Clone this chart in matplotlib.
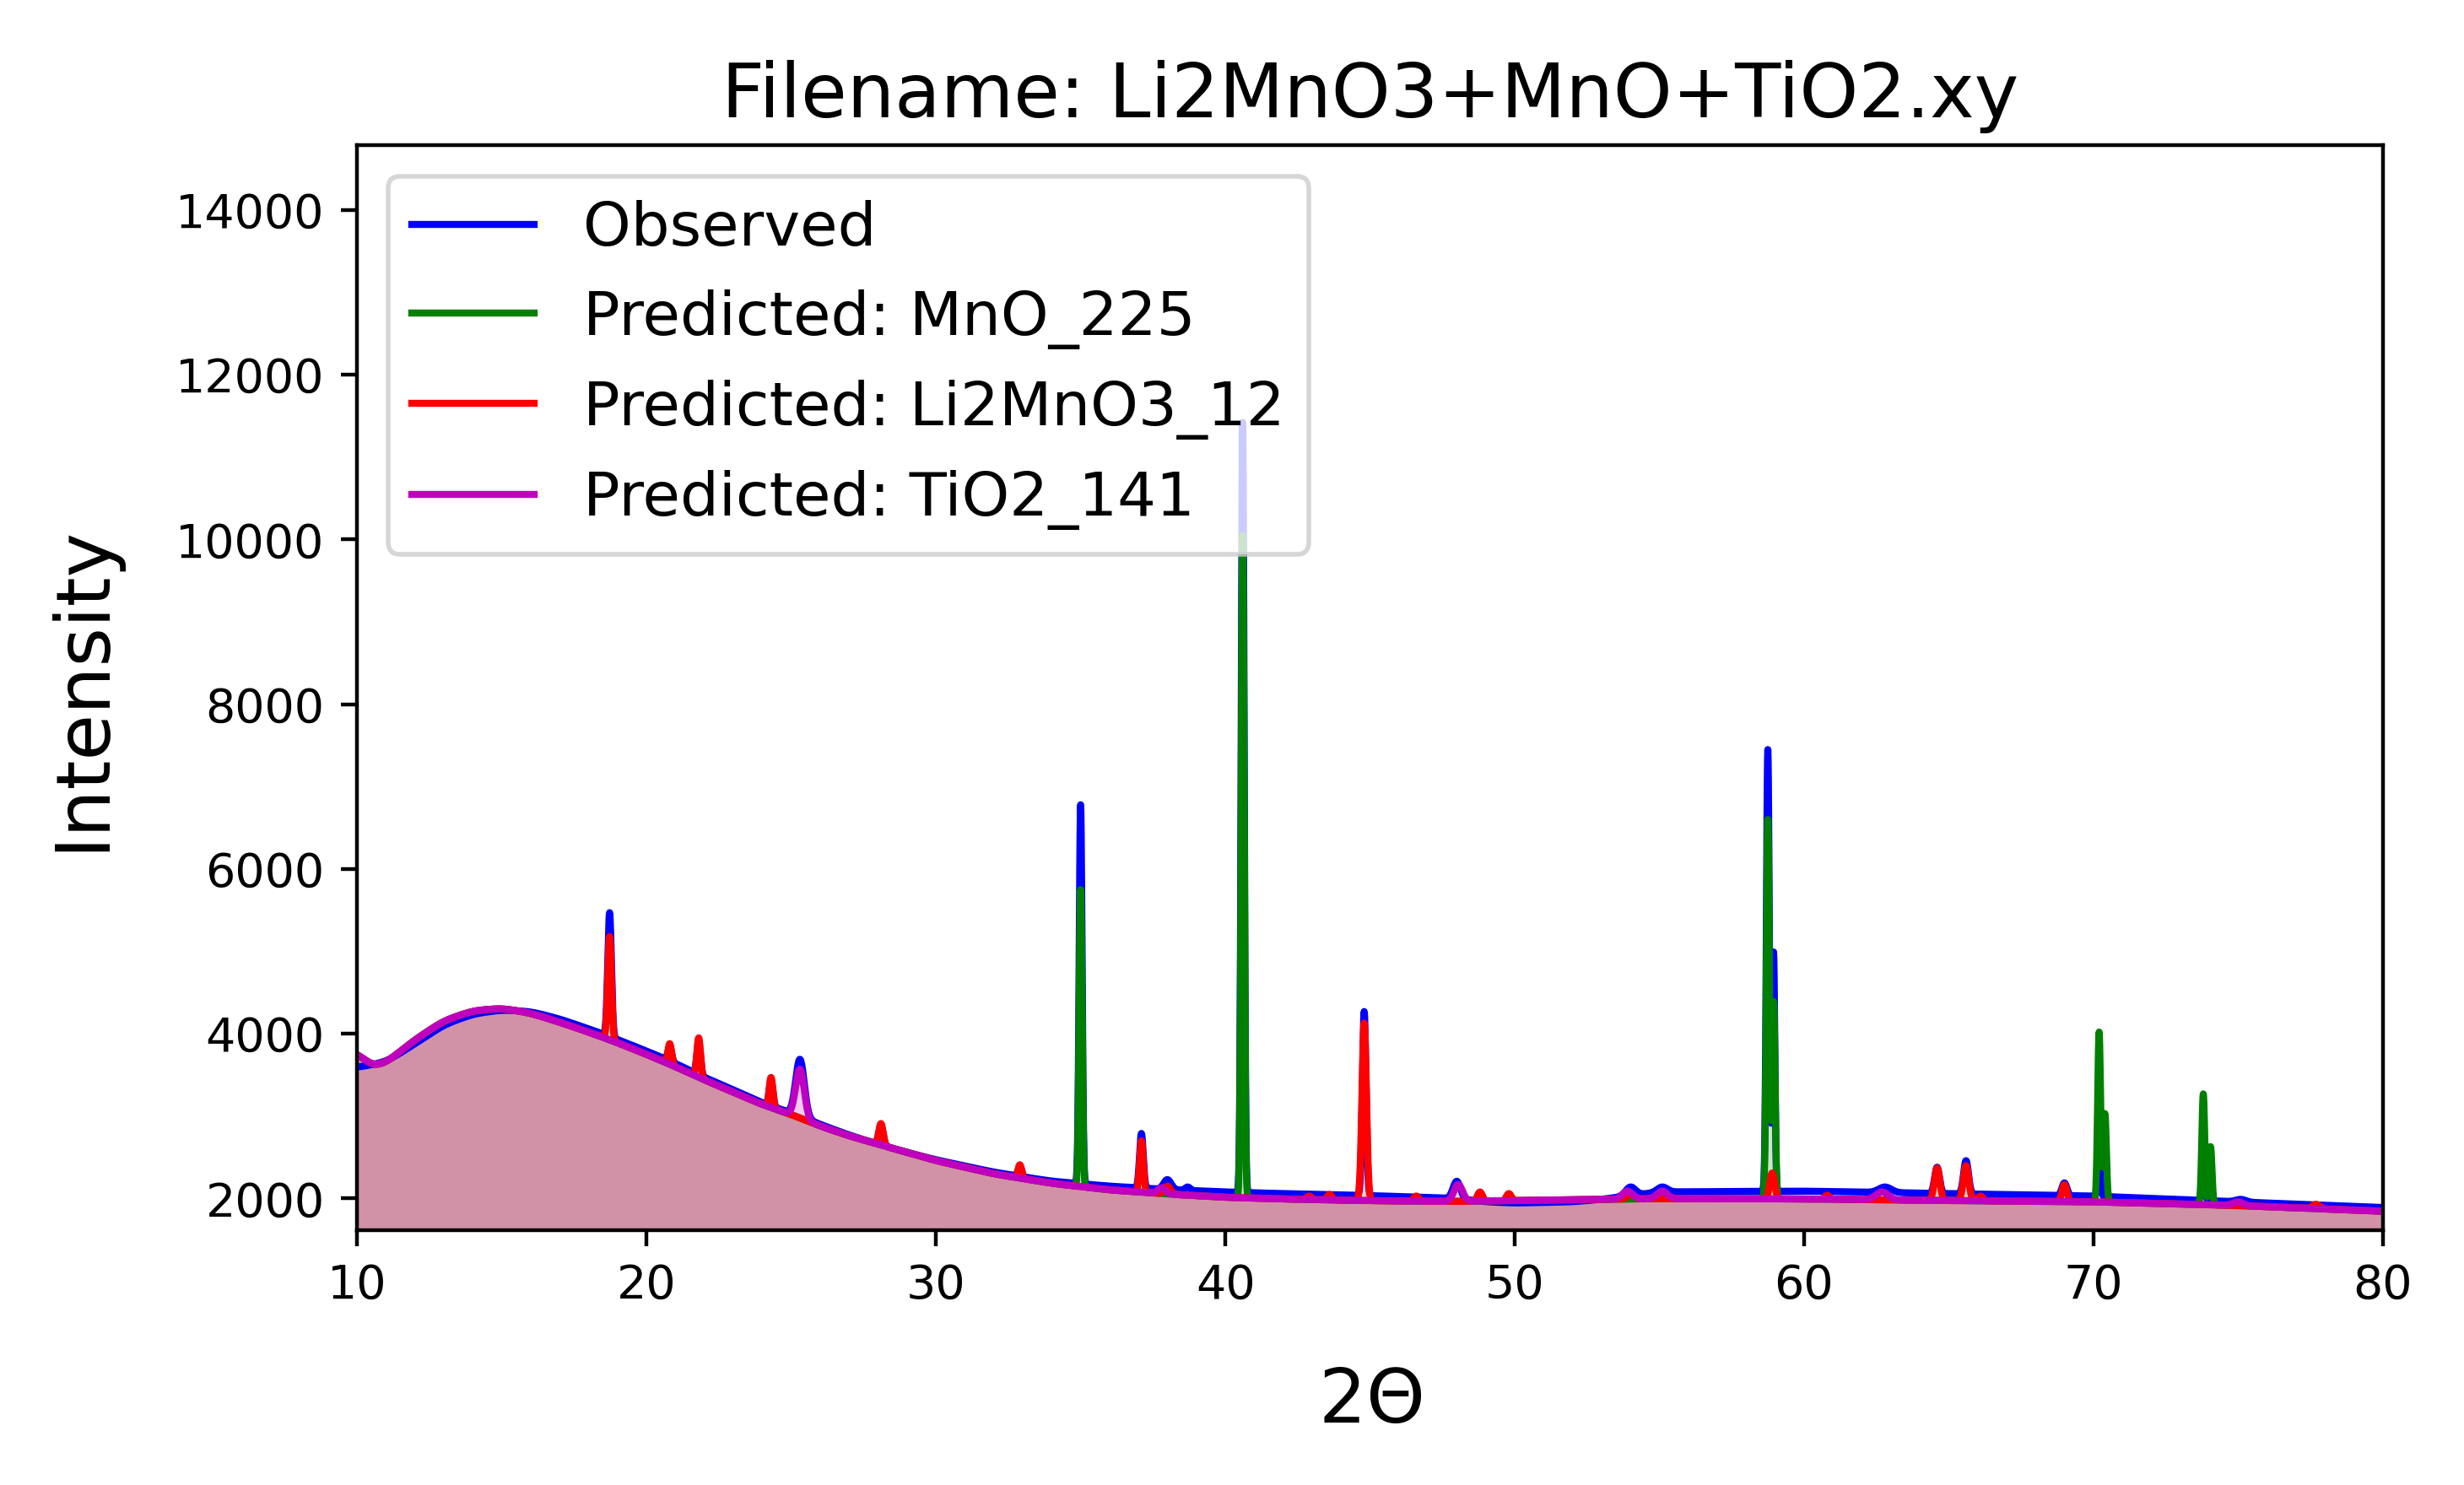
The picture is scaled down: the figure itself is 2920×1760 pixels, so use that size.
import numpy as np
import matplotlib
matplotlib.use("Agg")
import matplotlib.pyplot as plt

# background (2theta, intensity)
obs_bg_angles = [10, 11, 12, 13, 14, 15, 16, 17, 18, 19, 20, 21, 22, 23, 24, 25, 26, 27, 28, 29,
                 30, 32, 34, 36, 38, 40, 42, 44, 46, 48, 49, 50, 52, 53, 55, 60, 65, 70, 75, 80]
obs_bg = [3590, 3660, 3880, 4110, 4240, 4290, 4270, 4180, 4060, 3930, 3790, 3640, 3470, 3320, 3160,
          3040, 2900, 2770, 2660, 2560, 2470, 2320, 2210, 2150, 2110, 2080, 2060, 2045, 2025, 2000,
          1960, 1945, 1960, 1990, 2080, 2090, 2060, 2030, 1960, 1890]

pred_bg_angles = [10, 10.5, 11, 12, 13, 14, 15, 16, 17, 18, 19, 20, 21, 22, 23, 24, 25, 26, 27, 28,
                  29, 30, 32, 34, 36, 38, 40, 42, 44, 46, 48, 50, 55, 60, 65, 70, 75, 80]
pred_bg = [3780, 3590, 3650, 3930, 4160, 4280, 4310, 4250, 4140, 4020, 3890, 3750, 3600, 3440, 3290,
           3140, 3020, 2880, 2760, 2660, 2560, 2460, 2300, 2185, 2105, 2055, 2015, 1995, 1980, 1970,
           1965, 1975, 2000, 1995, 1975, 1960, 1915, 1845]

# peaks: position, top intensity, fwhm
obs_pos = [18.72, 20.8, 21.8, 24.3, 25.3, 28.1, 32.9, 35.0, 37.1, 38.0, 38.7, 40.6, 44.8, 48.0,
           54.0, 55.1, 58.75, 58.95, 62.8, 64.6, 65.6, 69.0, 70.2, 73.8, 75.1]
obs_top = [5470, 3850, 3900, 3440, 3690, 2880, 2390, 6780, 2790, 2230, 2140, 11420, 4270, 2210,
           2140, 2140, 7450, 4990, 2140, 2380, 2460, 2190, 2400, 2160, 1990]
obs_fwhm = [0.15, 0.15, 0.15, 0.15, 0.35, 0.18, 0.15, 0.12, 0.15, 0.3, 0.2, 0.12, 0.15, 0.3,
            0.4, 0.4, 0.12, 0.1, 0.5, 0.2, 0.2, 0.2, 0.12, 0.15, 0.4]

mno_pos = [35.0, 40.6, 58.75, 58.95, 70.2, 70.4, 73.8, 74.05]
mno_top = [5750, 10050, 6600, 4390, 4020, 3030, 3270, 2630]
mno_fwhm = [0.12, 0.12, 0.12, 0.12, 0.12, 0.12, 0.12, 0.12]

li_pos = [18.72, 20.8, 21.8, 24.3, 28.1, 32.9, 37.1, 38.0, 42.9, 43.6, 44.8, 46.6, 48.8, 49.8,
          54.0, 58.9, 60.8, 64.6, 65.6, 66.1, 69.0, 77.7]
li_top = [5180, 3880, 3950, 3470, 2910, 2410, 2700, 2150, 2030, 2050, 4130, 2030, 2080, 2060,
          2050, 2310, 2040, 2370, 2400, 2030, 2170, 1930]
li_fwhm = [0.15, 0.15, 0.15, 0.15, 0.18, 0.15, 0.15, 0.25, 0.2, 0.2, 0.18, 0.2, 0.2, 0.2,
           0.3, 0.2, 0.2, 0.22, 0.22, 0.2, 0.2, 0.3]

tio2_pos = [25.3, 37.8, 48.05, 53.9, 55.1, 62.7, 75.0]
tio2_top = [3570, 2130, 2170, 2090, 2090, 2080, 1960]
tio2_fwhm = [0.35, 0.3, 0.35, 0.4, 0.4, 0.5, 0.4]

labels = ['Observed', 'Predicted: MnO_225', 'Predicted: Li2MnO3_12', 'Predicted: TiO2_141']


def background(x, bg_a, bg_v, sigma=0.25):
    # linear between the read points, then a light gaussian smoothing
    bg = np.interp(x, bg_a, bg_v)
    dx = x[1] - x[0]
    k = np.arange(-int(4 * sigma / dx), int(4 * sigma / dx) + 1) * dx
    kern = np.exp(-0.5 * (k / sigma) ** 2)
    kern /= kern.sum()
    n = len(k) // 2
    padded = np.concatenate([np.full(n, bg[0]), bg, np.full(n, bg[-1])])
    return np.convolve(padded, kern, mode='valid')


def pattern(x, bg_a, bg_v, pos, top, fwhm):
    bg = background(x, bg_a, bg_v)
    y = bg.copy()
    for p, t, w in zip(pos, top, fwhm):
        h = t - np.interp(p, x, bg)
        y += h * np.exp(-4 * np.log(2) * (x - p) ** 2 / w ** 2)
    return y


x = np.linspace(10, 80, 7001)
y_obs = pattern(x, obs_bg_angles, obs_bg, obs_pos, obs_top, obs_fwhm)
y_mno = pattern(x, pred_bg_angles, pred_bg, mno_pos, mno_top, mno_fwhm)
y_li = pattern(x, pred_bg_angles, pred_bg, li_pos, li_top, li_fwhm)
y_tio2 = pattern(x, pred_bg_angles, pred_bg, tio2_pos, tio2_top, tio2_fwhm)

fig = plt.figure(figsize=(7.3, 4.4), dpi=400)
ax = fig.add_axes([0.145, 0.1715, 0.822, 0.7305])

ax.plot(x, y_obs, 'b-', lw=1.5, label=labels[0])
for y, c, lab in zip([y_mno, y_li, y_tio2], ['g', 'r', 'm'], labels[1:]):
    ax.plot(x, y, color=c, lw=1.5, label=lab)
    ax.fill_between(x, y, 0, color=c, alpha=0.2, lw=0)

ax.set_xlim(10, 80)
ax.set_ylim(1614, 14782)
ax.legend(loc='upper left', prop={'size': 13})
ax.set_xlabel(r'2$\Theta$', fontsize=16, labelpad=12)
ax.set_ylabel('Intensity', fontsize=16, labelpad=12)
ax.set_title('Filename: Li2MnO3+MnO+TiO2.xy', fontsize=16)

fig.savefig('out.png', dpi=400)
